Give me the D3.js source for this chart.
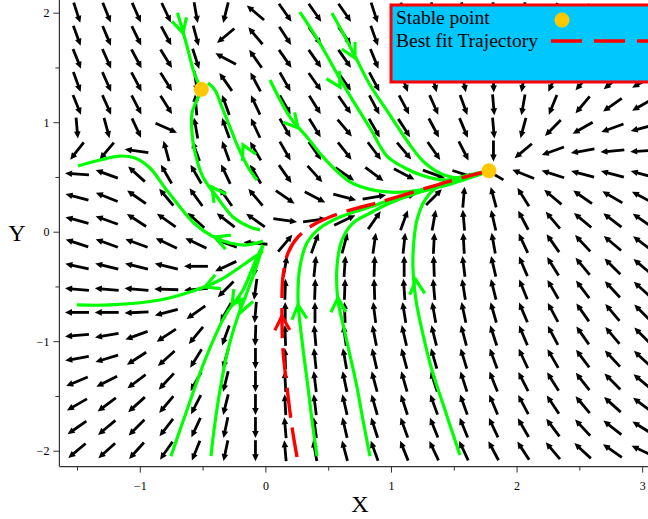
<!DOCTYPE html>
<html><head><meta charset="utf-8">
<script src="https://cdn.jsdelivr.net/npm/d3@7"></script>
<style>body{margin:0;background:#fff}svg{display:block}</style>
</head><body><svg id="c" width="648" height="519"></svg>
<script>
// ---------- DATA ----------
const xGrid = [-1.5,-1.263,-1.026,-0.789,-0.553,-0.316,-0.079,0.158,0.395,0.632,0.868,1.105,1.342,1.579,1.816,2.053,2.289,2.526,2.763,3.0];
const yGrid = [2.0,1.789,1.579,1.368,1.158,0.947,0.737,0.526,0.316,0.105,-0.105,-0.316,-0.526,-0.737,-0.947,-1.158,-1.368,-1.579,-1.789,-2.0];
// arrow directions (degrees, counter-clockwise from +x), one row per yGrid value
const fieldAngles = [
 [-72,-68,-66,-65,-80,-104,140,-55,-55,-55,-72,-72,-75,-78,-88,-100,-115,-130,-140,-150],
 [-70,-67,-64,-62,-75,-140,130,-57,-55,-55,-70,-70,-74,-78,-88,-100,-115,-130,-140,-150],
 [-68,-66,-62,-58,-72,152,125,-55,-55,-55,-68,-70,-74,-78,-88,-100,-115,-130,-140,-150],
 [-70,-66,-62,-58,-82,125,118,-60,-55,-55,-62,-70,-75,-78,-88,-100,-115,-130,-140,-150],
 [-68,-66,-63,-58,95,110,115,-60,-58,-55,-62,-62,-66,-70,-85,-100,-112,-130,-145,-150],
 [-85,-75,-65,-24,100,110,115,-60,-58,-50,-60,-57,-62,-67,-85,-105,-135,-150,-160,-165],
 [-128,-130,172,105,110,110,120,-60,-55,-52,-53,-50,-55,-63,-90,-140,-160,-170,-175,-177],
 [176,160,138,120,120,115,120,-55,-48,-35,-37,-28,-20,-18,150,158,162,165,165,165],
 [165,158,145,130,126,125,130,-35,-28,-15,10,15,45,85,105,122,140,145,150,152],
 [165,160,147,145,138,142,145,-8,8,25,55,70,80,95,103,118,130,140,143,145],
 [162,160,160,155,155,160,175,50,70,75,82,84,87,93,100,115,125,133,140,143],
 [168,166,166,166,180,205,-100,80,84,86,88,90,92,97,103,113,122,130,135,140],
 [175,175,175,178,185,225,-98,88,88,88,92,94,95,99,104,112,120,127,133,138],
 [180,180,183,195,215,240,-95,90,90,92,97,99,100,102,106,113,118,125,130,135],
 [185,190,200,213,230,250,-92,92,95,98,101,103,104,105,108,113,118,125,130,135],
 [190,197,213,222,238,255,-90,92,96,100,103,105,106,107,110,115,120,127,133,137],
 [203,207,217,227,240,256,-90,93,97,102,105,106,108,108,112,117,122,128,135,140],
 [210,217,222,230,243,256,-90,93,97,103,106,108,110,110,113,118,124,130,138,143],
 [215,220,225,232,245,258,-90,95,98,103,108,110,112,112,115,120,127,133,142,148],
 [220,222,228,235,248,258,-90,95,100,105,110,112,115,115,118,123,130,137,145,155]
];
// trajectories (points in flow order) and the position of their direction marker
const traj1 = [[-0.70,2.0],[-0.664,1.86],[-0.616,1.659],[-0.569,1.458],[-0.513,1.303]];
const traj2 = [[-0.067,0.472],[-0.139,0.591],[-0.218,0.774],[-0.282,0.956],[-0.346,1.139],[-0.401,1.294],[-0.457,1.358]];
const traj3 = [[-0.043,0.016],[-0.123,0.043],[-0.258,0.134],[-0.385,0.317],[-0.497,0.5],[-0.56,0.719],[-0.584,0.901],[-0.584,1.084],[-0.545,1.203],[-0.513,1.276]];
const traj4 = [[-0.019,-0.085],[-0.146,-0.121],[-0.282,-0.103],[-0.425,-0.039],[-0.561,0.071],[-0.68,0.226],[-0.799,0.4],[-0.919,0.582],[-1.038,0.673],[-1.158,0.691],[-1.317,0.655],[-1.492,0.6]];
const traj5 = [[-0.019,-0.176],[-0.178,-0.304],[-0.361,-0.441],[-0.576,-0.542],[-0.839,-0.624],[-1.237,-0.669],[-1.5,-0.669]];
const traj6 = [[-0.019,-0.121],[-0.083,-0.277],[-0.178,-0.532],[-0.322,-0.77],[-0.481,-1.172],[-0.624,-1.628],[-0.752,-2.05]];
const traj7 = [[-0.019,-0.121],[-0.067,-0.304],[-0.139,-0.532],[-0.218,-0.77],[-0.298,-1.08],[-0.361,-1.446],[-0.409,-1.811],[-0.433,-2.05]];
const traj8 = [[0.411,-2.05],[0.371,-1.719],[0.339,-1.418],[0.291,-0.989],[0.26,-0.624],[0.275,-0.322],[0.331,-0.103],[0.435,0.034],[0.594,0.134],[0.833,0.226],[0.992,0.29],[1.231,0.363],[1.47,0.454],[1.629,0.509],[1.78,0.555]];
const traj9 = [[0.833,-2.05],[0.777,-1.719],[0.729,-1.418],[0.634,-0.925],[0.578,-0.624],[0.57,-0.322],[0.61,-0.076],[0.697,0.079],[0.833,0.17],[0.992,0.262],[1.231,0.363],[1.47,0.434],[1.78,0.555]];
const traj10 = [[1.549,-2.039],[1.43,-1.628],[1.326,-1.263],[1.247,-0.898],[1.199,-0.624],[1.175,-0.322],[1.183,-0.076],[1.207,0.107],[1.271,0.29],[1.366,0.408],[1.501,0.481],[1.78,0.555]];
const traj11 = [[0.037,1.385],[0.196,1.047],[0.331,0.865],[0.459,0.683],[0.594,0.527],[0.705,0.436],[0.968,0.363],[1.231,0.381],[1.422,0.445],[1.629,0.509],[1.78,0.555]];
const traj12 = [[0.275,2.006],[0.419,1.751],[0.554,1.477],[0.674,1.24],[0.833,0.947],[0.968,0.691],[1.111,0.582],[1.239,0.518],[1.422,0.472],[1.629,0.509],[1.78,0.555]];
const traj13 = [[0.53,1.997],[0.634,1.778],[0.721,1.586],[0.833,1.34],[0.992,1.065],[1.151,0.792],[1.271,0.627],[1.422,0.518],[1.589,0.49],[1.78,0.555]];
const greenTrajectories = [traj1,traj2,traj3,traj4,traj5,traj6,traj7,traj8,traj9,traj10,traj11,traj12,traj13];
const greenMarkers = [[-0.656,1.815],[-0.178,0.793],[-0.425,0.408],[-0.401,-0.048],[-0.481,-0.505],[-0.266,-0.669],[-0.194,-0.733],[0.26,-0.669],[0.578,-0.605],[1.199,-0.441],[0.26,0.947],[0.594,1.321],[0.713,1.586]];
const bestFit = [[0.252,-2.058],[0.212,-1.784],[0.172,-1.418],[0.14,-1.08],[0.132,-0.715],[0.14,-0.414],[0.18,-0.195],[0.26,-0.048],[0.379,0.061],[0.514,0.134],[0.729,0.216],[0.888,0.262],[1.231,0.381],[1.47,0.463],[1.709,0.536],[1.78,0.555]];
const bestFitMarker = [0.132,-0.77];
const stablePoints = [[-0.51,1.30],[1.78,0.557]];
const xTicksMajor = [-1,0,1,2,3];
const xTicksMinor = [-1.5,-0.5,0.5,1.5,2.5];
const yTicksMajor = [-2,-1,0,1,2];
const yTicksMinor = [-1.5,-0.5,0.5,1.5];
const legendLabels = ["Stable point","Best fit Trajectory"];

// ---------- DRAW ----------
const svg = d3.select('#c');
const x = d3.scaleLinear().domain([-1.64,3.06]).range([59.4,649.7]);
const y = d3.scaleLinear().domain([-2.145,2.116]).range([466.6,0]);
const serif = '"Liberation Serif","Times New Roman",serif';

// field arrows
const fg = svg.append('g');
yGrid.forEach((yv,j)=>xGrid.forEach((xv,i)=>{
  const a = fieldAngles[j][i]*Math.PI/180;
  const cx = x(xv), cy = y(yv);
  const c = Math.cos(a), s = -Math.sin(a);
  const h = 1/Math.sqrt((c/12)**2 + (s/10.5)**2);
  const x1 = cx - c*h, y1 = cy - s*h, x2 = cx + c*h, y2 = cy + s*h;
  const hl = 7, hw = 3.3;
  const bx = x2 - c*hl, by = y2 - s*hl;
  fg.append('line').attr('x1',x1).attr('y1',y1).attr('x2',bx+c*1).attr('y2',by+s*1)
    .attr('stroke','#000').attr('stroke-width',2.8);
  fg.append('path').attr('d',`M${x2},${y2}L${bx - s*hw},${by + c*hw}L${bx + s*hw},${by - c*hw}Z`)
    .attr('fill','#000');
}));

// axes
const axG = svg.append('g');
axG.append('line').attr('x1',x.range()[0]).attr('x2',648).attr('y1',y.range()[0]).attr('y2',y.range()[0]).attr('stroke','#333').attr('stroke-width',1.2);
axG.append('line').attr('x1',x.range()[0]).attr('x2',x.range()[0]).attr('y1',0).attr('y2',y.range()[0]).attr('stroke','#333').attr('stroke-width',1.2);
const fmt = v => (v<0? '\u2212'+Math.abs(v) : String(v));
const xAx = svg.append('g').attr('transform',`translate(0,${y.range()[0]})`)
  .call(d3.axisBottom(x).tickValues(xTicksMajor).tickSize(6).tickSizeOuter(0).tickFormat(fmt).tickPadding(9));
const xAxm = svg.append('g').attr('transform',`translate(0,${y.range()[0]})`)
  .call(d3.axisBottom(x).tickValues(xTicksMinor).tickSize(4).tickSizeOuter(0).tickFormat(''));
const yAx = svg.append('g').attr('transform',`translate(${x.range()[0]},0)`)
  .call(d3.axisLeft(y).tickValues(yTicksMajor).tickSize(6).tickSizeOuter(0).tickFormat(fmt).tickPadding(4));
const yAxm = svg.append('g').attr('transform',`translate(${x.range()[0]},0)`)
  .call(d3.axisLeft(y).tickValues(yTicksMinor).tickSize(4).tickSizeOuter(0).tickFormat(''));
[xAx,xAxm,yAx,yAxm].forEach(g=>{
  g.select('.domain').remove();
  g.selectAll('line').attr('stroke','#333');
  g.selectAll('text').attr('font-family',serif).attr('font-size',12).attr('fill','#000');
});
svg.append('text').attr('x',360).attr('y',512).attr('text-anchor','middle').attr('font-family',serif).attr('font-size',24).text('X');
svg.append('text').attr('x',17).attr('y',241).attr('text-anchor','middle').attr('font-family',serif).attr('font-size',24).text('Y');

// trajectories
const line = d3.line().x(d=>x(d[0])).y(d=>y(d[1])).curve(d3.curveCatmullRom.alpha(0.5));
function chevron(g, pts, m, color){
  const px = x(m[0]), py = y(m[1]);
  let best=1e9, dir=[1,0];
  for(let k=0;k<pts.length-1;k++){
    const ax=x(pts[k][0]), ay=y(pts[k][1]), bx=x(pts[k+1][0]), by=y(pts[k+1][1]);
    const dx=bx-ax, dy=by-ay, L2=dx*dx+dy*dy;
    let t=((px-ax)*dx+(py-ay)*dy)/L2; t=Math.max(0,Math.min(1,t));
    const qx=ax+t*dx, qy=ay+t*dy, d=(qx-px)**2+(qy-py)**2;
    if(d<best){best=d; const L=Math.sqrt(L2); dir=[dx/L,dy/L];}
  }
  const ang=28*Math.PI/180, len=16;
  const arm = sgn => {
    const ca=Math.cos(sgn*ang), sa=Math.sin(sgn*ang);
    const rx=dir[0]*ca - dir[1]*sa, ry=dir[0]*sa + dir[1]*ca;
    return [px - rx*len, py - ry*len];
  };
  const p1=arm(1), p2=arm(-1);
  g.append('path').attr('d',`M${p1[0]},${p1[1]}L${px},${py}L${p2[0]},${p2[1]}`)
    .attr('fill','none').attr('stroke',color).attr('stroke-width',3.2);
}
const tg = svg.append('g');
greenTrajectories.forEach((t,k)=>{
  tg.append('path').attr('d',line(t)).attr('fill','none').attr('stroke','#00FF00').attr('stroke-width',3.2);
  chevron(tg,t,greenMarkers[k],'#00FF00');
});
tg.append('path').attr('d',line(bestFit)).attr('fill','none').attr('stroke','#FF0000').attr('stroke-width',3.4).attr('stroke-dasharray','30,10');
chevron(tg,bestFit,bestFitMarker,'#FF0000');

// stable points
svg.append('g').selectAll('circle').data(stablePoints).join('circle')
  .attr('cx',d=>x(d[0])).attr('cy',d=>y(d[1])).attr('r',7.5).attr('fill','#FFC800');

// legend
const lg = svg.append('g');
lg.append('rect').attr('x',391).attr('y',5).attr('width',280).attr('height',77)
  .attr('fill','#00C8FF').attr('stroke','#FF0000').attr('stroke-width',3);
lg.append('text').attr('x',396).attr('y',24).attr('font-family',serif).attr('font-size',19.5).text(legendLabels[0]);
lg.append('text').attr('x',396).attr('y',47).attr('font-family',serif).attr('font-size',19.5).text(legendLabels[1]);
lg.append('circle').attr('cx',562).attr('cy',20).attr('r',7.5).attr('fill','#FFC800');
lg.append('line').attr('x1',551).attr('x2',648).attr('y1',41).attr('y2',41).attr('stroke','#FF0000').attr('stroke-width',3.4).attr('stroke-dasharray','31,12');
</script></body></html>
